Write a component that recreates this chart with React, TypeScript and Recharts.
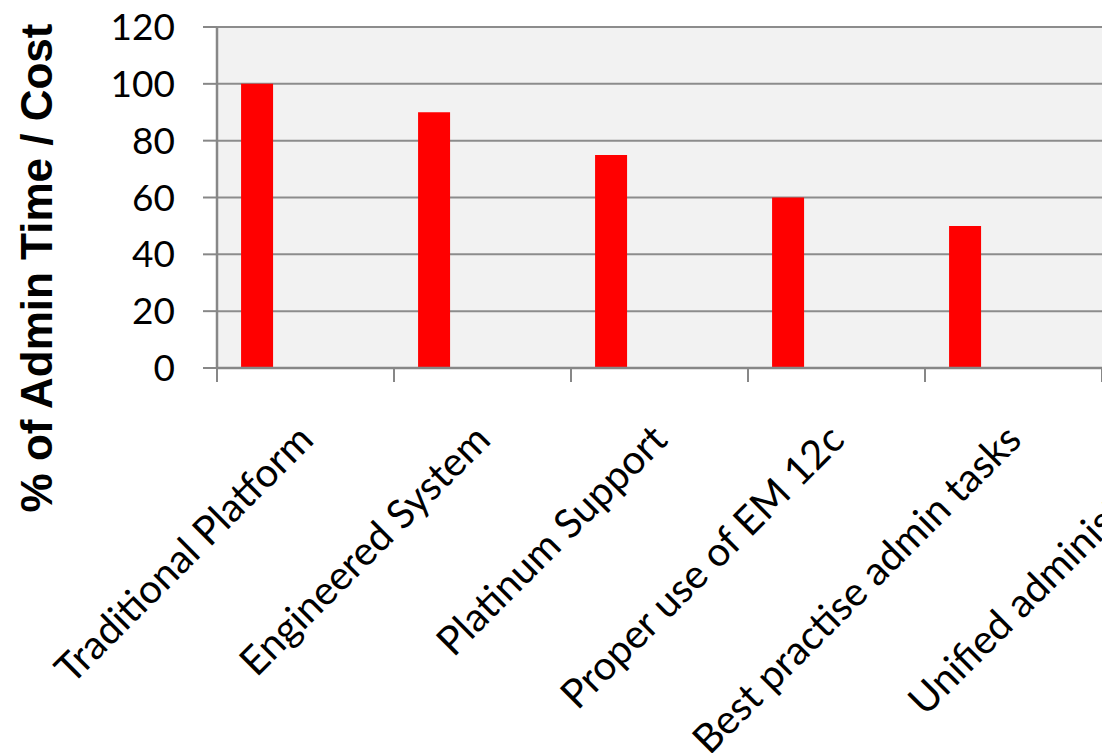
import { BarChart, Bar, XAxis, YAxis, CartesianGrid } from "recharts";

// Admin time / cost as % of the traditional platform
const categories = [
  "Traditional Platform",
  "Engineered System",
  "Platinum Support",
  "Proper use of EM 12c",
  "Best practise admin tasks",
  "Unified administration",
];
const adminCost = [100, 90, 75, 60, 50, 40];
// the source sheet had 3 more (empty) series, which is why the red bar sits left in each slot
const emptySeries = [null, null, null, null, null, null];
const yTicks = [0, 20, 40, 60, 80, 100, 120];

const data = categories.map((name, i) => ({
  name,
  cost: adminCost[i],
  s2: emptySeries[i],
  s3: emptySeries[i],
  s4: emptySeries[i],
}));

const AXIS = "#878787";
const FONT = "Lato, 'Open Sans', sans-serif";

function CategoryTick(props: any) {
  const { x, y, payload } = props;
  const half = payload?.offset ?? 88.5;
  const tx = x + 10;
  const ty = y + 74;
  return (
    <g>
      <line x1={x - half} y1={y} x2={x - half} y2={y + 14} stroke={AXIS} strokeWidth={2} />
      <text
        x={tx}
        y={ty}
        textAnchor="end"
        fontSize={40}
        fontFamily={FONT}
        fill="#000"
        transform={`rotate(-45 ${tx} ${ty})`}
      >
        {payload.value}
      </text>
    </g>
  );
}

function YTitle() {
  return (
    <text
      x={52}
      y={268}
      textAnchor="middle"
      fontSize={44}
      fontWeight="bold"
      fontFamily="'Liberation Sans', Arial, sans-serif"
      fill="#000"
      transform="rotate(-90 52 268)"
    >
      % of Admin Time / Cost
    </text>
  );
}

export default function App() {
  return (
    <div
      style={{
        position: "absolute",
        left: 0,
        top: 0,
        width: 1102,
        height: 753,
        overflow: "hidden",
        background: "#fff",
      }}
    >
      <BarChart
        width={1290}
        height={753}
        data={data}
        margin={{ top: 27, right: 11, bottom: 0, left: 0 }}
        barCategoryGap="13.6%"
        barGap={0}
      >
        <CartesianGrid
          vertical={false}
          fill="#f2f2f2"
          stroke="#8c8c8c"
          strokeWidth={2}
          horizontalValues={yTicks}
        />
        <XAxis
          dataKey="name"
          interval={0}
          height={385}
          tickSize={0}
          tickMargin={0}
          tickLine={false}
          axisLine={{ stroke: AXIS, strokeWidth: 2.5 }}
          tick={<CategoryTick />}
        />
        <YAxis
          width={217}
          domain={[0, 120]}
          ticks={yTicks}
          interval={0}
          tickSize={14}
          tickMargin={28}
          tickLine={{ stroke: AXIS, strokeWidth: 2 }}
          axisLine={{ stroke: AXIS, strokeWidth: 2.5 }}
          tick={{ fontSize: 37, fontFamily: FONT, fill: "#000" }}
          label={<YTitle />}
        />
        <Bar dataKey="cost" fill="#ff0000" isAnimationActive={false} />
        <Bar dataKey="s2" fill="#4f81bd" isAnimationActive={false} />
        <Bar dataKey="s3" fill="#9bbb59" isAnimationActive={false} />
        <Bar dataKey="s4" fill="#8064a2" isAnimationActive={false} />
      </BarChart>
    </div>
  );
}
